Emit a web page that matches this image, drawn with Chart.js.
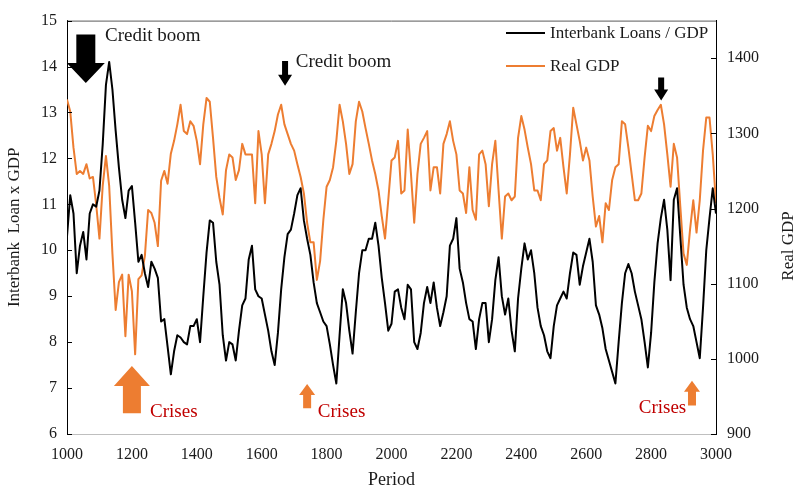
<!DOCTYPE html>
<html>
<head>
<meta charset="utf-8">
<script src="https://cdn.jsdelivr.net/npm/chart.js@4.4.1/dist/chart.umd.min.js"></script>
<style>
  html, body { margin: 0; padding: 0; background: #fff; }
  #wrap { width: 799px; height: 491px; }
</style>
</head>
<body>
<div id="wrap"><canvas id="chart" width="799" height="491"></canvas></div>
<script>
// periods on the x axis, one reading every 10 periods
const periods = Array.from({ length: 201 }, (_, i) => 1000 + i * 10);

// Interbank Loans / GDP (left axis)
const loans = [
  10.3, 11.2, 10.8, 9.5, 10.1, 10.4, 9.8, 10.8, 11.0, 10.95,
  11.3, 12.3, 13.6, 14.1, 13.5, 12.6, 11.8, 11.1, 10.7, 11.3,
  11.4, 10.6, 9.75, 9.9, 9.5, 9.2, 9.75, 9.6, 9.4, 8.45,
  8.5, 7.9, 7.3, 7.8, 8.15, 8.1, 8.0, 7.95, 8.35, 8.35,
  8.5, 8.0, 9.0, 9.95, 10.65, 10.6, 9.75, 9.25, 8.15, 7.6,
  8.0, 7.95, 7.6, 8.25, 8.8, 8.95, 9.8, 10.1, 9.15, 9.0,
  8.95, 8.6, 8.25, 7.8, 7.5, 8.2, 9.15, 9.85, 10.35, 10.45,
  10.8, 11.2, 11.35, 10.65, 10.25, 9.9, 9.3, 8.85, 8.65, 8.45,
  8.35, 7.95, 7.5, 7.1, 8.15, 9.15, 8.85, 8.25, 7.75, 8.65,
  9.5, 10.0, 10.0, 10.25, 10.25, 10.6, 10.1, 9.4, 8.85, 8.25,
  8.4, 9.1, 9.15, 8.75, 8.5, 9.25, 9.15, 8.0, 7.85, 8.2,
  8.85, 9.2, 8.85, 9.3, 8.75, 8.35, 8.65, 9.0, 10.1, 10.25,
  10.7, 9.6, 9.3, 8.85, 8.5, 8.45, 7.85, 8.5, 8.85, 8.85,
  8.0, 8.5, 9.35, 9.85, 9.0, 8.6, 8.95, 8.25, 7.8, 8.95,
  9.6, 10.15, 9.8, 10.0, 9.5, 8.75, 8.35, 8.15, 7.8, 7.65,
  8.35, 8.8, 8.95, 9.1, 8.95, 9.5, 9.95, 9.9, 9.25, 9.65,
  9.95, 10.25, 9.75, 8.8, 8.6, 8.3, 7.85, 7.6, 7.35, 7.1,
  8.0, 8.85, 9.5, 9.7, 9.5, 9.1, 8.8, 8.5, 8.0, 7.45,
  8.2, 9.3, 10.15, 10.7, 11.1, 10.45, 9.35, 11.1, 11.35, 10.3,
  9.25, 8.75, 8.5, 8.35, 8.0, 7.65, 8.75, 10.0, 10.7, 11.35,
  10.8
];

// Real GDP (right axis)
const gdp = [
  1345, 1329, 1281, 1246, 1250, 1246, 1259, 1240, 1242, 1205,
  1160, 1230, 1270, 1230, 1140, 1065, 1102, 1112, 1030, 1112,
  1090, 1006, 1106, 1111, 1137, 1198, 1194, 1181, 1150, 1237,
  1250, 1233, 1273, 1290, 1312, 1338, 1303, 1299, 1316, 1310,
  1290, 1259, 1312, 1347, 1342, 1294, 1242, 1214, 1192, 1251,
  1272, 1268, 1238, 1251, 1286, 1272, 1272, 1272, 1207, 1303,
  1272, 1207, 1272, 1286, 1303, 1325, 1338, 1312, 1299, 1286,
  1277, 1259, 1242, 1220, 1181, 1155, 1155, 1105, 1130, 1185,
  1229, 1238, 1255, 1290, 1338, 1316, 1286, 1246, 1259, 1316,
  1342, 1329, 1307, 1286, 1264, 1246, 1224, 1190, 1160, 1211,
  1264, 1268, 1290, 1220, 1224, 1305, 1246, 1181, 1246, 1286,
  1294, 1303, 1224, 1255, 1255, 1220, 1286, 1299, 1316, 1290,
  1272, 1224, 1220, 1194, 1255, 1198, 1185, 1272, 1277, 1259,
  1203, 1259, 1290, 1224, 1160, 1216, 1220, 1211, 1216, 1294,
  1323, 1305, 1281, 1259, 1224, 1224, 1211, 1259, 1264, 1303,
  1307, 1277, 1294, 1255, 1220, 1272, 1334, 1312, 1290, 1264,
  1281, 1264, 1216, 1176, 1190, 1155, 1207, 1198, 1238, 1255,
  1259, 1316, 1312, 1281, 1246, 1211, 1211, 1220, 1268, 1310,
  1303, 1323, 1331, 1338, 1312, 1272, 1229, 1286, 1268, 1203,
  1140, 1125, 1172, 1211, 1168, 1211, 1277, 1321, 1321, 1272,
  1207
];

// annotation anchors: period on x, left-axis value on y
const boomArrows = [
  { period: 1058, top: 14.7, tip: 13.64, shaft: 9.5, head: 19, headLen: 20 },
  { period: 1672, top: 14.12, tip: 13.58, shaft: 3, head: 7, headLen: 11 },
  { period: 2831, top: 13.76, tip: 13.26, shaft: 3, head: 7, headLen: 11 }
];
const crisisArrows = [
  { period: 1200, tip: 7.48, bottom: 6.45, shaft: 9, head: 18, headLen: 20 },
  { period: 1740, tip: 7.09, bottom: 6.56, shaft: 4, head: 8, headLen: 11 },
  { period: 2926, tip: 7.16, bottom: 6.62, shaft: 4, head: 8, headLen: 11 }
];
const boomLabels = [
  { text: 'Credit boom', period: 1117, value: 14.55 },
  { text: 'Credit boom', period: 1705, value: 13.98 }
];
const crisisLabels = [
  { text: 'Crises', period: 1256, value: 6.37 },
  { text: 'Crises', period: 1773, value: 6.37 },
  { text: 'Crises', period: 2762, value: 6.45 }
];

const SERIF = "'Liberation Serif', 'Times New Roman', serif";
const TEXT = '#1a1a1a';
const ORANGE = '#ED7D31';
const plain = v => String(v);

const extras = {
  id: 'extras',
  beforeDraw(chart) {
    const c = chart.ctx;
    c.save();
    c.fillStyle = '#fff';
    c.fillRect(0, 0, chart.width, chart.height);
    c.restore();
  },
  afterDraw(chart) {
    const c = chart.ctx;
    const { x, y, y2 } = chart.scales;
    const area = chart.chartArea;
    c.save();

    // top frame line
    c.strokeStyle = '#595959';
    c.lineWidth = 1;
    c.beginPath();
    c.moveTo(area.left, area.top + 0.5);
    c.lineTo(area.right, area.top + 0.5);
    c.stroke();

    // inside tick marks
    c.strokeStyle = '#000';
    y.ticks.forEach(t => {
      const py = Math.round(y.getPixelForValue(t.value)) + 0.5;
      c.beginPath(); c.moveTo(area.left, py); c.lineTo(area.left + 5, py); c.stroke();
    });
    y2.ticks.forEach(t => {
      const py = Math.round(y2.getPixelForValue(t.value)) + 0.5;
      c.beginPath(); c.moveTo(area.right, py); c.lineTo(area.right - 5, py); c.stroke();
    });

    // credit boom arrows (pointing down)
    c.fillStyle = '#000';
    boomArrows.forEach(a => {
      const cx = x.getPixelForValue(a.period);
      const t = y.getPixelForValue(a.top);
      const tip = y.getPixelForValue(a.tip);
      const hb = tip - a.headLen;
      c.beginPath();
      c.moveTo(cx - a.shaft, t);
      c.lineTo(cx + a.shaft, t);
      c.lineTo(cx + a.shaft, hb);
      c.lineTo(cx + a.head, hb);
      c.lineTo(cx, tip);
      c.lineTo(cx - a.head, hb);
      c.lineTo(cx - a.shaft, hb);
      c.closePath();
      c.fill();
    });

    // crisis arrows (pointing up)
    c.fillStyle = ORANGE;
    crisisArrows.forEach(a => {
      const cx = x.getPixelForValue(a.period);
      const b = y.getPixelForValue(a.bottom);
      const tip = y.getPixelForValue(a.tip);
      const hb = tip + a.headLen;
      c.beginPath();
      c.moveTo(cx - a.shaft, b);
      c.lineTo(cx + a.shaft, b);
      c.lineTo(cx + a.shaft, hb);
      c.lineTo(cx + a.head, hb);
      c.lineTo(cx, tip);
      c.lineTo(cx - a.head, hb);
      c.lineTo(cx - a.shaft, hb);
      c.closePath();
      c.fill();
    });

    // annotation text
    c.textAlign = 'left';
    c.textBaseline = 'alphabetic';
    c.font = '19px ' + SERIF;
    c.fillStyle = TEXT;
    boomLabels.forEach(l => c.fillText(l.text, x.getPixelForValue(l.period), y.getPixelForValue(l.value)));
    c.fillStyle = '#C00000';
    crisisLabels.forEach(l => c.fillText(l.text, x.getPixelForValue(l.period), y.getPixelForValue(l.value)));

    // legend
    c.font = '17px ' + SERIF;
    c.textBaseline = 'middle';
    const legend = [
      { label: chart.data.datasets[0].label, color: '#000', yy: 33 },
      { label: chart.data.datasets[1].label, color: ORANGE, yy: 66 }
    ];
    legend.forEach(item => {
      c.strokeStyle = item.color;
      c.lineWidth = 2;
      c.beginPath(); c.moveTo(506, item.yy); c.lineTo(545, item.yy); c.stroke();
      c.fillStyle = TEXT;
      c.fillText(item.label, 550, item.yy + 1);
    });

    // right axis title, reads bottom to top
    c.translate(789, 246);
    c.rotate(-Math.PI / 2);
    c.textAlign = 'center';
    c.font = '17px ' + SERIF;
    c.fillStyle = TEXT;
    c.fillText('Real GDP', 0, 0);
    c.restore();
  }
};

const ctx = document.getElementById('chart');
new Chart(ctx, {
  type: 'line',
  data: {
    datasets: [
      {
        label: 'Interbank Loans / GDP',
        data: periods.map((p, i) => ({ x: p, y: loans[i] })),
        borderColor: '#000',
        borderWidth: 2,
        pointRadius: 0,
        tension: 0,
        borderJoinStyle: 'round',
        yAxisID: 'y'
      },
      {
        label: 'Real GDP',
        data: periods.map((p, i) => ({ x: p, y: gdp[i] })),
        borderColor: ORANGE,
        borderWidth: 2,
        pointRadius: 0,
        tension: 0,
        borderJoinStyle: 'round',
        yAxisID: 'y2'
      }
    ]
  },
  options: {
    responsive: false,
    animation: false,
    layout: { padding: { top: 14, left: 0, right: 0, bottom: 0 } },
    plugins: { legend: { display: false }, tooltip: { enabled: false } },
    scales: {
      x: {
        type: 'linear',
        min: 1000, max: 3000,
        ticks: { stepSize: 200, callback: plain, color: TEXT, font: { family: SERIF, size: 16 }, padding: 11, maxRotation: 0 },
        grid: { display: false, drawTicks: false },
        border: { color: '#bfbfbf', width: 1 },
        title: { display: true, text: 'Period', color: TEXT, font: { family: SERIF, size: 18 }, padding: { top: 0, bottom: 0 } },
        afterFit: s => { s.height = 57; }
      },
      y: {
        position: 'left',
        min: 6, max: 15,
        ticks: { stepSize: 1, callback: plain, color: TEXT, font: { family: SERIF, size: 16 }, padding: 10 },
        grid: { display: false, drawTicks: false },
        border: { color: '#000', width: 1 },
        title: { display: true, text: 'Interbank  Loan x GDP', color: TEXT, font: { family: SERIF, size: 17 }, padding: { top: 4, bottom: 0 } },
        afterFit: s => { s.width = 67; }
      },
      y2: {
        position: 'right',
        min: 900, max: 1450,
        ticks: { stepSize: 100, includeBounds: false, callback: plain, color: TEXT, font: { family: SERIF, size: 16 }, padding: 11 },
        grid: { display: false, drawTicks: false },
        border: { color: '#000', width: 1 },
        afterFit: s => { s.width = 83; }
      }
    }
  },
  plugins: [extras]
});
</script>
</body>
</html>
